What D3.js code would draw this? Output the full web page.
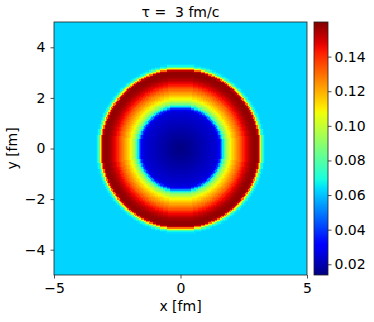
<!DOCTYPE html>
<html>
<head>
<meta charset="utf-8">
<script src="https://cdn.jsdelivr.net/npm/d3@7"></script>
<style>
  body { margin: 0; background: #fff; }
  text { font-family: "DejaVu Sans", sans-serif; fill: #000; }
</style>
</head>
<body>
<div id="chart"></div>
<script>
// radial profile of the field, one value every 0.05 fm from r = 0
const profileStep = 0.05
const profileV = [
    0.0145, 0.0146, 0.0148, 0.0150, 0.0152, 0.0155, 0.0158, 0.0161, 0.0165, 0.0168,
    0.0172, 0.0176, 0.0180, 0.0184, 0.0188, 0.0192, 0.0196, 0.0200, 0.0204, 0.0208,
    0.0212, 0.0216, 0.0220, 0.0224, 0.0228, 0.0232, 0.0236, 0.0240, 0.0245, 0.0250,
    0.0260, 0.0290, 0.0380, 0.0520, 0.0660, 0.0780, 0.0870, 0.0940, 0.0990, 0.1040,
    0.1080, 0.1120, 0.1150, 0.1180, 0.1210, 0.1240, 0.1270, 0.1300, 0.1330, 0.1360,
    0.1410, 0.1435, 0.1460, 0.1480, 0.1510, 0.1530, 0.1550, 0.1560, 0.1570, 0.1575,
    0.1575, 0.1570, 0.1520, 0.1300, 0.1050, 0.0800, 0.0680, 0.0640]
const background = 0.0625
const cellSize = 0.05
const xTicks = [-5, 0, 5]
const yTicks = [-4, -2, 0, 2, 4]
const cbTicks = [0.02, 0.04, 0.06, 0.08, 0.10, 0.12, 0.14]
const vMin = 0.0138, vMax = 0.160

const width = 374, height = 322
const plot = {left: 54, right: 307, top: 22, bottom: 275}
const cb = {left: 314, right: 328}
const fontSize = "14px"

// matplotlib jet
const jr = d3.scaleLinear().domain([0, 0.35, 0.66, 0.89, 1]).range([0, 0, 1, 1, 0.5]).clamp(true)
const jg = d3.scaleLinear().domain([0, 0.125, 0.375, 0.64, 0.91, 1]).range([0, 0, 1, 1, 0, 0]).clamp(true)
const jb = d3.scaleLinear().domain([0, 0.11, 0.34, 0.65, 1]).range([0.5, 1, 1, 0, 0]).clamp(true)
function jet(t) {
    return d3.rgb(jr(t) * 255, jg(t) * 255, jb(t) * 255).formatHex()
}
const norm = d3.scaleLinear().domain([vMin, vMax]).range([0, 1]).clamp(true)
const color = v => jet(norm(v))

function valueAt(r) {
    let i = Math.round(r / profileStep)
    return i < profileV.length ? profileV[i] : background
}

let x = d3.scaleLinear().domain([-5, 5]).range([plot.left, plot.right])
let y = d3.scaleLinear().domain([-5, 5]).range([plot.bottom, plot.top])

let cells = []
let n = Math.round(10 / cellSize)
let centers = d3.range(n).map(i => -5 + (i + 0.5) * cellSize)
centers.forEach(cx => centers.forEach(cy => {
    cells.push({x: cx, y: cy, v: valueAt(Math.hypot(cx, cy))})
}))

let svg = d3.select("#chart").append("svg")
    .attr("width", width)
    .attr("height", height)

let cellPx = x(cellSize) - x(0)
svg.append("g")
    .attr("shape-rendering", "crispEdges")
    .selectAll("rect")
    .data(cells)
    .enter()
    .append("rect")
    .attr("x", d => x(d.x - cellSize / 2))
    .attr("y", d => y(d.y + cellSize / 2))
    .attr("width", cellPx + 0.4)
    .attr("height", cellPx + 0.4)
    .attr("fill", d => color(d.v))

svg.append("rect")
    .attr("x", plot.left).attr("y", plot.top)
    .attr("width", plot.right - plot.left).attr("height", plot.bottom - plot.top)
    .attr("fill", "none").attr("stroke", "#222").attr("stroke-width", 0.8)

const minus = d => d < 0 ? "\u2212" + Math.abs(d) : d
let xAxis = svg.append("g")
    .attr("transform", `translate(0,${plot.bottom})`)
    .call(d3.axisBottom(x).tickValues(xTicks).tickSize(3.5).tickPadding(5).tickFormat(minus))
let yAxis = svg.append("g")
    .attr("transform", `translate(${plot.left},0)`)
    .call(d3.axisLeft(y).tickValues(yTicks).tickSize(3.5).tickPadding(5).tickFormat(minus))
;[xAxis, yAxis].forEach(a => {
    a.select(".domain").remove()
    a.selectAll("line").attr("stroke", "#222").attr("stroke-width", 0.8)
    a.selectAll("text").style("font-size", fontSize).attr("fill", "#000")
})

svg.append("text")
    .attr("x", (plot.left + plot.right) / 2).attr("y", 311)
    .attr("text-anchor", "middle").style("font-size", fontSize)
    .text("x [fm]")
svg.append("text")
    .attr("transform", `translate(17,${(plot.top + plot.bottom) / 2}) rotate(-90)`)
    .attr("text-anchor", "middle").style("font-size", fontSize)
    .text("y [fm]")
svg.append("text")
    .attr("x", (plot.left + plot.right) / 2).attr("y", 17)
    .attr("text-anchor", "middle").style("font-size", fontSize)
    .style("white-space", "pre")
    .text("\u03c4 =  3 fm/c")

// colorbar
let cbScale = d3.scaleLinear().domain([vMin, vMax]).range([plot.bottom, plot.top])
let grad = svg.append("defs").append("linearGradient")
    .attr("id", "jetgrad").attr("x1", 0).attr("y1", 1).attr("x2", 0).attr("y2", 0)
grad.selectAll("stop")
    .data(d3.range(0, 1.0001, 0.02))
    .enter().append("stop")
    .attr("offset", d => d)
    .attr("stop-color", d => jet(d))
svg.append("rect")
    .attr("x", cb.left).attr("y", plot.top)
    .attr("width", cb.right - cb.left).attr("height", plot.bottom - plot.top)
    .attr("fill", "url(#jetgrad)").attr("stroke", "#222").attr("stroke-width", 0.8)
let cbAxis = svg.append("g")
    .attr("transform", `translate(${cb.right},0)`)
    .call(d3.axisRight(cbScale).tickValues(cbTicks).tickSize(3.5).tickPadding(3).tickFormat(d3.format(".2f")))
cbAxis.select(".domain").remove()
cbAxis.selectAll("line").attr("stroke", "#222").attr("stroke-width", 0.8)
cbAxis.selectAll("text").style("font-size", fontSize).attr("fill", "#000")
</script>
</body>
</html>
